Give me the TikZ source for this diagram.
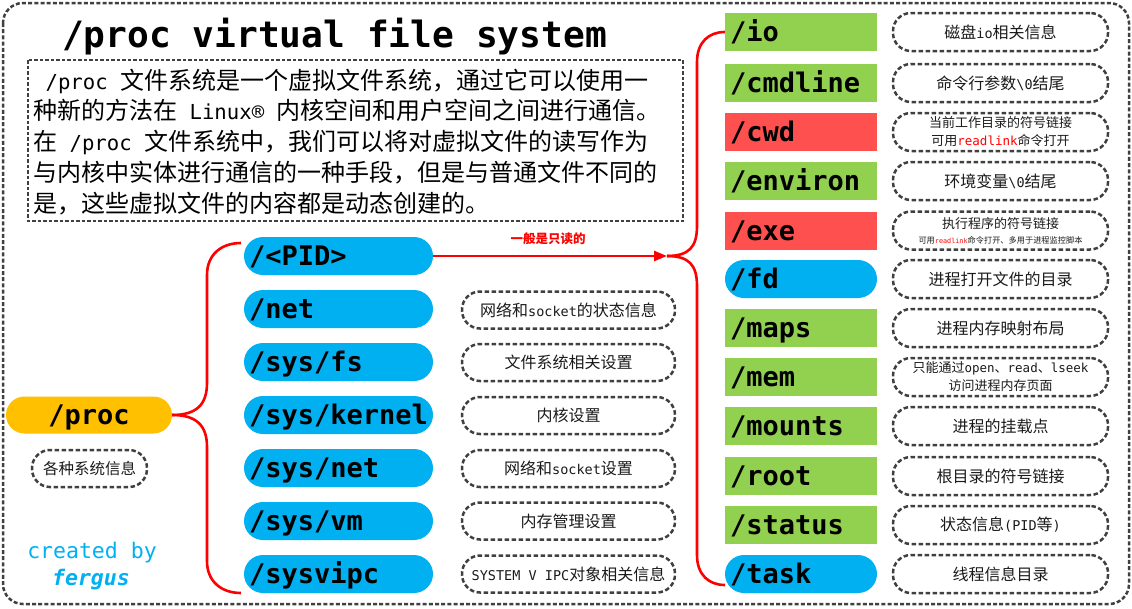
\documentclass[tikz,border=0pt]{standalone}
\usepackage{fontspec}
\setmainfont{DejaVu Sans}
\newfontfamily\cjkf{Noto Sans CJK SC}
\newfontfamily\monof{DejaVu Sans Mono}
\newfontfamily\latm[Scale=0.86]{DejaVu Sans Mono}
\usetikzlibrary{arrows.meta}
\definecolor{cblue}{HTML}{00B0F0}
\definecolor{corange}{HTML}{FFC000}
\definecolor{cgreen}{HTML}{92D050}
\definecolor{cboxred}{HTML}{FF5050}
\definecolor{cline}{HTML}{FF0000}
\definecolor{dgray}{HTML}{404040}
\definecolor{dtext}{HTML}{1A1A1A}
\newcommand\lt[1]{{\monof\fontsize{13.5}{15}\selectfont #1}}
\newcommand\ltsmall[1]{{\monof\fontsize{12.5}{14}\selectfont #1}}
\newcommand\bxfont{\monof\bfseries\fontsize{27}{30}\selectfont}
\tikzset{
  dashline/.style={draw=dgray, line width=2.5pt, dash pattern=on 4.5pt off 2.5pt},
  desc/.style={dashline, rounded corners=18pt, minimum width=213pt, minimum height=37pt,
    inner sep=0pt, align=center, text=dtext, font=\cjkf\fontsize{16}{19}\selectfont},
  rdesc/.style={desc, minimum width=215pt, minimum height=38pt},
  rdesctwo/.style={rdesc, font=\cjkf\fontsize{13}{18}\selectfont},
  midbox/.style={fill=cblue, rounded corners=19pt, minimum height=38pt, text width=179pt,
    inner xsep=5pt, inner ysep=0pt, text height=19.7pt, text depth=0pt, align=left, font=\bxfont},
  rbox/.style={minimum height=38pt, text width=142pt, inner xsep=5pt, inner ysep=0pt,
    text height=19.7pt, text depth=0pt, align=left, font=\bxfont},
  gbox/.style={rbox, fill=cgreen},
  rrbox/.style={rbox, fill=cboxred},
  bbox/.style={rbox, fill=cblue, rounded corners=19pt},
  redline/.style={draw=cline, line width=2.6pt},
  txtline/.style={anchor=base west, inner sep=0pt, font=\cjkf\fontsize{24}{28}\selectfont},
}
\begin{document}
\begin{tikzpicture}[x=1pt,y=-1pt]
\useasboundingbox (0,0) rectangle (1132,608);
\draw[draw=dgray, line width=2.5pt, dash pattern=on 4pt off 2.2pt, rounded corners=20pt] (3,3) rectangle (1129,604);

% title
\node[anchor=base, inner sep=0pt, font=\monof\bfseries\fontsize{36.2}{40}\selectfont] (title) at (334.5,47) {/proc virtual file system};

% text box
\draw[draw=dgray, line width=2.2pt, dash pattern=on 3.5pt off 2pt] (28,60) rectangle (683,221);
\node[txtline] (l1) at (33,89) {{\latm\ /proc\ }文件系统是一个虚拟文件系统，通过它可以使用一};
\node[txtline] (l2) at (33,119) {种新的方法在{\latm\ Linux®\ }内核空间和用户空间之间进行通信。};
\node[txtline] (l3) at (33,150) {在{\latm\ /proc\ }文件系统中，我们可以将对虚拟文件的读写作为};
\node[txtline] (l4) at (33,181) {与内核中实体进行通信的一种手段，但是与普通文件不同的};
\node[txtline] (l5) at (33,212) {是，这些虚拟文件的内容都是动态创建的。};

% proc
\node[fill=corange, rounded corners=18.5pt, minimum width=166pt, minimum height=37pt, inner sep=0pt,
  text height=19.7pt, text depth=0pt, font=\bxfont] (proc) at (89,415) {/proc};
\node[desc, minimum width=115pt, font=\cjkf\fontsize{15.5}{19}\selectfont] (dproc) at (89.5,468.5) {各种系统信息};
\node[text=cblue, font=\monof\fontsize{21.5}{24}\selectfont, inner sep=0pt] (created) at (92,553) {created by};
\node[text=cblue, font=\monof\bfseries\itshape\fontsize{21.5}{24}\selectfont, inner sep=0pt] (fergus) at (91,580) {fergus};

% middle column
\node[midbox] (pid) at (338.5,256) {/<PID>};
\node[midbox] (net) at (338.5,309) {/net};
\node[midbox] (sysfs) at (338.5,362) {/sys/fs};
\node[midbox] (syskernel) at (338.5,415) {/sys/kernel};
\node[midbox] (sysnet) at (338.5,468) {/sys/net};
\node[midbox] (sysvm) at (338.5,521) {/sys/vm};
\node[midbox] (sysvipc) at (338.5,574) {/sysvipc};

\node[desc] (dnet) at (568.5,310) {网络和\lt{socket}的状态信息};
\node[desc] (dsysfs) at (568.5,362.5) {文件系统相关设置};
\node[desc] (dkernel) at (568.5,415.5) {内核设置};
\node[desc] (dsysnet) at (568.5,468.5) {网络和\lt{socket}设置};
\node[desc] (dvm) at (568.5,521) {内存管理设置};
\node[desc] (dipc) at (568.5,574) {\lt{SYSTEM V IPC}对象相关信息};

% right column
\node[gbox] (io) at (801,32) {/io};
\node[gbox] (cmdline) at (801,83) {/cmdline};
\node[rrbox] (cwd) at (801,132) {/cwd};
\node[gbox] (environ) at (801,181) {/environ};
\node[rrbox] (exe) at (801,230.5) {/exe};
\node[bbox] (fd) at (801,279) {/fd};
\node[gbox] (maps) at (801,328) {/maps};
\node[gbox] (mem) at (801,377) {/mem};
\node[gbox] (mounts) at (801,426) {/mounts};
\node[gbox] (root) at (801,476) {/root};
\node[gbox] (status) at (801,525) {/status};
\node[bbox] (task) at (801,574) {/task};

\node[rdesc] (dio) at (1000.5,32) {磁盘\lt{io}相关信息};
\node[rdesc] (dcmd) at (1000.5,83) {命令行参数\lt{\textbackslash 0}结尾};
\node[rdesctwo] (dcwd) at (1000.5,132) {当前工作目录的符号链接\\可用{\color{cline}\ltsmall{readlink}}命令打开};
\node[rdesc] (denv) at (1000.5,181) {环境变量\lt{\textbackslash 0}结尾};
\node[rdesctwo] (dexe) at (1000.5,230.5) {执行程序的符号链接\\[-3pt]{\fontsize{8.2}{10}\selectfont 可用{\color{cline}\monof\fontsize{6.8}{8}\selectfont readlink}命令打开、多用于进程监控脚本}};
\node[rdesc] (dfd) at (1000.5,279) {进程打开文件的目录};
\node[rdesc] (dmaps) at (1000.5,328) {进程内存映射布局};
\node[rdesctwo] (dmem) at (1000.5,377) {只能通过\ltsmall{open}、\ltsmall{read}、\ltsmall{lseek}\\访问进程内存页面};
\node[rdesc] (dmounts) at (1000.5,426) {进程的挂载点};
\node[rdesc] (droot) at (1000.5,476) {根目录的符号链接};
\node[rdesc] (dstatus) at (1000.5,525) {状态信息\lt{(PID}等\lt{)}};
\node[rdesc] (dtask) at (1000.5,574) {线程信息目录};

% connectors
\coordinate (ltop) at (241,243);
\coordinate (lbot) at (241,593);
\coordinate (rtip) at (667,256);
\coordinate (rbot) at (725,585);
\draw[redline] (proc.east) .. controls (196,415) and (207,405) .. (207,383) -- (207,275)
  .. controls (207,254) and (222,243) .. (ltop);
\draw[redline] (proc.east) .. controls (196,415) and (207,425) .. (207,447) -- (207,561)
  .. controls (207,582) and (222,593) .. (lbot);
\draw[redline, -{Triangle[length=13pt, width=10pt]}] (pid.east) -- (rtip);
\node[text=cline, font=\cjkf\bfseries\fontsize{12.5}{14}\selectfont, inner sep=0pt] (ro) at (548,239) {一般是只读的};
\draw[redline] (rtip) .. controls (689,256) and (697,247) .. (697,226) -- (697,62)
  .. controls (697,42) and (709,32) .. (io.west);
\draw[redline] (rtip) .. controls (689,256) and (697,265) .. (697,286) -- (697,555)
  .. controls (697,575) and (709,585) .. (rbot);
\end{tikzpicture}
\end{document}
